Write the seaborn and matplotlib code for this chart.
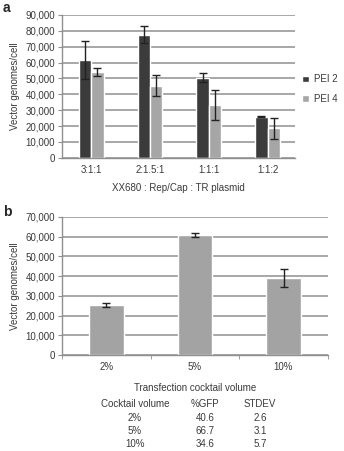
import matplotlib as mpl
mpl.use('Agg')
import matplotlib.pyplot as plt
import matplotlib.ticker as ticker
import numpy as np
import pandas as pd
import seaborn as sns

# panel a data
ratios = ['3:1:1', '2:1.5:1', '1:1:1', '1:1:2']
pei_labels = ['PEI 2', 'PEI 4']
pei2_mean = [61500, 77500, 50500, 26000]
pei2_sd = [12000, 5500, 3000, 500]
pei4_mean = [54000, 45500, 33500, 18500]
pei4_sd = [2500, 6500, 9500, 6500]

# panel b data
volumes = ['2%', '5%', '10%']
vg_mean = [25500, 61000, 39000]
vg_sd = [1000, 1000, 4500]

# table under panel b
table_cols = ['Cocktail volume', '%GFP', 'STDEV']
gfp = ['40.6', '66.7', '34.6']
gfp_sd = ['2.6', '3.1', '5.7']

sns.set_style("white")
plt.rcParams['font.family'] = ['Liberation Sans', 'DejaVu Sans']
txt = '#3a3a3a'
grid_c = '#8f8f8f'

fig = plt.figure(figsize=(3.44, 4.51), dpi=100)
axa = fig.add_axes([0.180, 0.650, 0.678, 0.317])
axb = fig.add_axes([0.180, 0.213, 0.773, 0.306])

def style(ax, ymax):
    ax.set_ylim(0, ymax)
    ax.yaxis.set_major_locator(ticker.MultipleLocator(10000))
    ax.yaxis.set_major_formatter(ticker.StrMethodFormatter('{x:,.0f}'))
    ax.grid(axis='y', color=grid_c, linewidth=1.1)
    ax.set_axisbelow(True)
    for s in ['top', 'right']:
        ax.spines[s].set_visible(False)
    for s in ['left', 'bottom']:
        ax.spines[s].set_color(grid_c)
        ax.spines[s].set_linewidth(1.0)
    ax.tick_params(axis='y', length=3, color=grid_c, labelsize=7, labelcolor=txt, pad=2, left=True)
    ax.tick_params(axis='x', length=0, labelsize=7, labelcolor=txt, pad=5)
    ax.set_ylabel('Vector genomes/cell', fontsize=7, color=txt, labelpad=4)

# panel a
dfa = pd.DataFrame({
    'ratio': ratios * 2,
    'pei': [pei_labels[0]] * 4 + [pei_labels[1]] * 4,
    'vg': pei2_mean + pei4_mean,
    'sd': pei2_sd + pei4_sd,
})
sns.barplot(data=dfa, x='ratio', y='vg', hue='pei', palette=['#3b3b3b', '#a6a6a6'],
            width=0.42, gap=0, errorbar=None, ax=axa, saturation=1)
for bar, (m, s) in zip(axa.patches, zip(dfa['vg'], dfa['sd'])):
    axa.errorbar(bar.get_x() + bar.get_width() / 2, m, yerr=s, color='#222222',
                 capsize=3, elinewidth=1, capthick=1)
style(axa, 90000)
axa.set_xlim(-0.5, 3.47)
axa.set_xlabel('XX680 : Rep/Cap : TR plasmid', fontsize=7, color=txt, labelpad=6)
leg = axa.legend(loc='center left', bbox_to_anchor=(1.0, 0.48), frameon=False,
                 fontsize=7, handlelength=0.7, handleheight=0.7, handletextpad=0.5,
                 labelspacing=1.0, labelcolor=txt, borderaxespad=0.3)

# panel b
dfb = pd.DataFrame({'vol': volumes, 'vg': vg_mean, 'sd': vg_sd})
sns.barplot(data=dfb, x='vol', y='vg', color='#a3a3a3', width=0.39, errorbar=None,
            ax=axb, saturation=1)
for bar, (m, s) in zip(axb.patches, zip(dfb['vg'], dfb['sd'])):
    axb.errorbar(bar.get_x() + bar.get_width() / 2, m, yerr=s, color='#222222',
                 capsize=3, elinewidth=1, capthick=1)
style(axb, 70000)
axb.set_xlim(-0.5, 2.5)
axb.set_xticks([-0.5, 0.5, 1.5, 2.5], minor=True)
axb.tick_params(axis='x', which='minor', length=3, color=grid_c, bottom=True)
axb.set_xlabel('Transfection cocktail volume', fontsize=7, color=txt, labelpad=8)

# labels a, b
fig.text(0.008, 0.982, 'a', fontsize=10, fontweight='bold', va='center')
fig.text(0.008, 0.53, 'b', fontsize=10, fontweight='bold', va='center')

# table
col_x = [135 / 344, 205 / 344, 260 / 344]
rows_y = [1 - 404 / 451, 1 - 418 / 451, 1 - 431 / 451, 1 - 444 / 451]
for x, h in zip(col_x, table_cols):
    fig.text(x, rows_y[0], h, fontsize=7, color=txt, ha='center', va='center')
for i in range(len(volumes)):
    for x, v in zip(col_x, [volumes[i], gfp[i], gfp_sd[i]]):
        fig.text(x, rows_y[i + 1], v, fontsize=7, color=txt, ha='center', va='center')

fig.savefig('out.png', dpi=100)
